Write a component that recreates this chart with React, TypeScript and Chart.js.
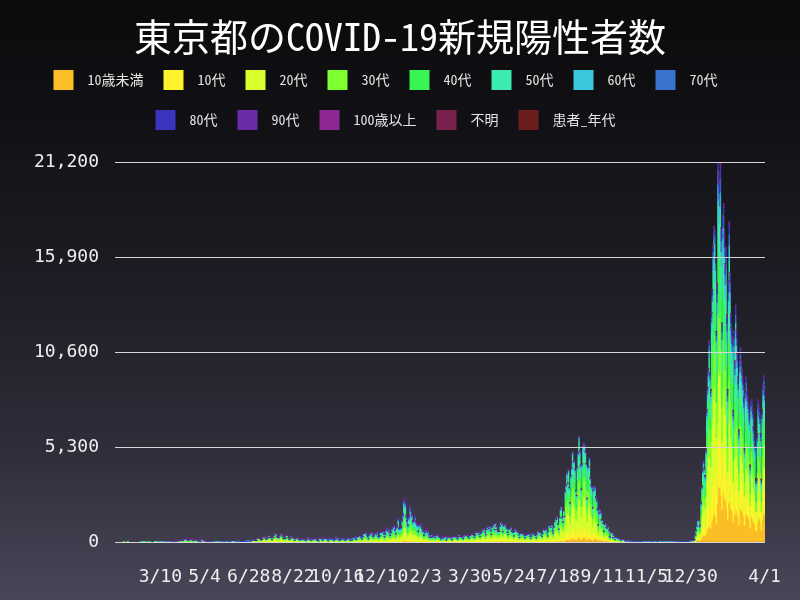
import React, { useEffect, useRef } from "react";
import { Chart, registerables } from "chart.js";

Chart.register(...registerables);

const TICK_FONT = "'DejaVu Sans Mono', 'Noto Sans CJK JP', monospace";
const CJK_FONT = "'Noto Sans Mono CJK JP', 'Noto Sans CJK JP', 'DejaVu Sans Mono', monospace";
const TITLE = "東京都のCOVID-19新規陽性者数";

// ---- daily totals, first day 2020-01-24 ----
const startDate = "2020-01-24";
const cases2020_01 = [1, 1, 0, 0, 0, 1, 1, 0];
const cases2020_02 = [0, 0, 0, 0, 0, 0, 0, 0, 0, 0, 0, 0, 1, 2, 8, 5, 0, 3, 3, 0, 3, 2, 0, 3, 0, 3, 1, 1, 1];
const cases2020_03 = [2, 0, 3, 3, 8, 6, 1, 2, 7, 8, 5, 2, 11, 3, 1, 12, 3, 11, 7, 11, 7, 3, 16, 17, 41, 47, 40, 63, 68, 13, 78];
const cases2020_04 = [66, 97, 89, 116, 143, 83, 87, 144, 178, 189, 197, 166, 91, 161, 127, 149, 201, 181, 107, 102, 123, 132, 134, 161, 103, 72, 39, 112, 47, 46];
const cases2020_05 = [165, 154, 91, 87, 58, 38, 23, 39, 36, 22, 15, 28, 10, 30, 9, 14, 5, 10, 5, 5, 11, 3, 2, 14, 8, 10, 11, 15, 22, 14, 5];
const cases2020_06 = [13, 34, 12, 28, 20, 26, 14, 13, 12, 18, 22, 25, 24, 47, 48, 27, 16, 41, 35, 39, 35, 29, 31, 55, 48, 54, 57, 60, 58, 54];
const cases2020_07 = [67, 107, 124, 131, 111, 102, 75, 75, 224, 243, 206, 206, 119, 143, 165, 286, 293, 290, 188, 168, 237, 238, 366, 260, 295, 239, 131, 266, 250, 367, 463];
const cases2020_08 = [472, 292, 258, 309, 263, 360, 462, 429, 331, 197, 188, 222, 206, 389, 385, 260, 161, 207, 186, 339, 258, 256, 212, 95, 182, 236, 250, 226, 148, 148, 100];
const cases2020_09 = [170, 141, 211, 137, 181, 116, 77, 170, 149, 276, 187, 146, 146, 80, 191, 163, 172, 220, 218, 165, 98, 88, 59, 195, 270, 218, 143, 78, 194, 194];
const cases2020_10 = [235, 196, 208, 143, 59, 170, 177, 186, 187, 180, 146, 78, 166, 177, 284, 184, 235, 130, 78, 139, 150, 185, 186, 203, 124, 102, 158, 171, 221, 215, 215];
const cases2020_11 = [116, 87, 209, 122, 269, 242, 294, 189, 157, 293, 317, 393, 374, 352, 255, 180, 298, 493, 534, 522, 539, 391, 314, 186, 401, 481, 570, 561, 418, 311];
const cases2020_12 = [372, 500, 533, 449, 584, 327, 299, 352, 572, 602, 595, 621, 480, 305, 460, 678, 822, 664, 736, 556, 392, 563, 748, 888, 884, 949, 708, 481, 856, 944, 1337];
const cases2021_01 = [783, 814, 816, 884, 1278, 1591, 2447, 2392, 2268, 1494, 1219, 970, 1433, 1502, 2044, 1809, 1592, 1204, 1240, 1274, 1471, 1175, 1070, 986, 618, 1026, 973, 1064, 868, 769, 633];
const cases2021_02 = [393, 556, 676, 734, 577, 639, 429, 276, 412, 291, 434, 307, 369, 371, 266, 378, 445, 445, 353, 327, 272, 178, 275, 213, 340, 270, 337, 329];
const cases2021_03 = [121, 232, 316, 279, 301, 293, 237, 116, 290, 340, 335, 304, 330, 239, 175, 300, 409, 323, 303, 342, 256, 187, 337, 420, 394, 376, 430, 313, 234, 364, 414];
const cases2021_04 = [475, 440, 446, 355, 249, 399, 555, 545, 537, 570, 421, 306, 510, 591, 729, 667, 759, 543, 405, 711, 843, 861, 759, 876, 635, 425, 828, 925, 1027, 698];
const cases2021_05 = [1050, 879, 708, 609, 621, 591, 907, 1121, 1032, 573, 925, 969, 1010, 854, 772, 542, 419, 732, 766, 843, 614, 629, 535, 340, 598, 743, 684, 614, 539, 405, 260];
const cases2021_06 = [471, 487, 508, 472, 436, 351, 235, 369, 440, 439, 435, 467, 304, 209, 337, 501, 452, 453, 388, 376, 236, 435, 619, 570, 562, 534, 386, 317, 476, 714];
const cases2021_07 = [673, 660, 716, 518, 342, 593, 920, 896, 822, 950, 614, 502, 830, 1149, 1308, 1271, 1410, 1008, 727, 1387, 1832, 1979, 1359, 1128, 1763, 1429, 2848, 3177, 3865, 3300, 4058];
const cases2021_08 = [3058, 2195, 3709, 4166, 5042, 4515, 4566, 4066, 2884, 2612, 4200, 4989, 5908, 5094, 4295, 2962, 4377, 5386, 5534, 5405, 5074, 4392, 2447, 4220, 4228, 4704, 3581, 3190, 3081, 1915, 2909];
const cases2021_09 = [3168, 3099, 2539, 2362, 1853, 968, 1629, 1834, 1675, 1242, 1273, 1067, 611, 1004, 1052, 831, 782, 862, 651, 302, 253, 537, 531, 235, 382, 253, 154, 267, 267, 218];
const cases2021_10 = [200, 194, 161, 87, 149, 144, 138, 137, 82, 60, 49, 77, 72, 62, 66, 65, 40, 29, 36, 41, 36, 26, 32, 19, 17, 29, 36, 21, 26, 22, 22];
const cases2021_11 = [9, 18, 21, 22, 24, 22, 19, 9, 18, 22, 29, 20, 27, 19, 6, 20, 19, 21, 30, 16, 15, 6, 9, 22, 19, 23, 22, 17, 8, 12];
const cases2021_12 = [15, 12, 24, 18, 13, 7, 13, 21, 20, 22, 27, 17, 8, 26, 21, 28, 26, 30, 26, 12, 36, 39, 33, 37, 33, 38, 37, 46, 76, 64, 78];
const cases2022_01 = [79, 84, 103, 151, 390, 641, 922, 1224, 1223, 871, 962, 2198, 3124, 4051, 4561, 4172, 3719, 5185, 7377, 8638, 9699, 11227, 9468, 8503, 12813, 14086, 16538, 17631, 17433, 15895, 11751];
const cases2022_02 = [14445, 21576, 20679, 20267, 21122, 17526, 12213, 18287, 18891, 17113, 15525, 16468, 12694, 8510, 14567, 17864, 15044, 12730, 11962, 11385, 7347, 11807, 10099, 13228, 11848, 10517, 9198, 6262];
const cases2022_03 = [10197, 10848, 10129, 9636, 9115, 8074, 5283, 8608, 9225, 8455, 8137, 7694, 7054, 4299, 7846, 7985, 7404, 6429, 5893, 5449, 3505, 3533, 6051, 7930, 7497, 7102, 6050, 3508, 7377, 8800, 9300];
const cases2022_04 = [8500];

const dailyTotals = [
  ...cases2020_01, ...cases2020_02, ...cases2020_03, ...cases2020_04, ...cases2020_05, ...cases2020_06,
  ...cases2020_07, ...cases2020_08, ...cases2020_09, ...cases2020_10, ...cases2020_11, ...cases2020_12,
  ...cases2021_01, ...cases2021_02, ...cases2021_03, ...cases2021_04, ...cases2021_05, ...cases2021_06,
  ...cases2021_07, ...cases2021_08, ...cases2021_09, ...cases2021_10, ...cases2021_11, ...cases2021_12,
  ...cases2022_01, ...cases2022_02, ...cases2022_03, ...cases2022_04,
];

// ---- age groups (stack order bottom -> top) ----
const ageGroups = ["10歳未満", "10代", "20代", "30代", "40代", "50代", "60代", "70代", "80代", "90代", "100歳以上", "不明", "患者_年代"];
const ageColors = ["#fdbf27", "#fff32b", "#d9ff2c", "#7dff30", "#38f554", "#3cebaf", "#3ac8dc", "#3874cf", "#3a35c0", "#6c2caa", "#8e2794", "#7a2150", "#6a1e1e"];

// monthly age shares (%) : 2020-01 ... 2022-04 (28 months)
const shareU10 = [0, 0, 1, 1, 1, 2, 2, 3, 3, 3, 3, 3, 3, 3, 4, 4, 5, 5, 4, 5, 8, 7, 6, 5, 9, 15, 18, 18];
const share10s = [0, 5, 2, 2, 3, 4, 5, 6, 5, 5, 5, 5, 6, 6, 8, 9, 9, 8, 9, 10, 11, 8, 8, 8, 13, 13, 14, 14];
const share20s = [0, 10, 19, 19, 19, 45, 45, 37, 30, 28, 27, 27, 26, 24, 30, 31, 30, 34, 35, 31, 25, 28, 27, 30, 27, 18, 16, 16];
const share30s = [50, 15, 17, 17, 18, 21, 21, 20, 20, 19, 19, 18, 18, 18, 18, 18, 19, 20, 21, 21, 20, 18, 18, 19, 17, 16, 16, 16];
const share40s = [50, 20, 17, 17, 17, 12, 12, 13, 15, 15, 15, 15, 15, 15, 15, 15, 16, 14, 14, 16, 16, 15, 15, 15, 15, 16, 15, 15];
const share50s = [0, 20, 17, 17, 17, 8, 8, 9, 11, 12, 12, 13, 13, 13, 12, 12, 12, 10, 10, 11, 11, 12, 12, 11, 10, 10, 9, 9];
const share60s = [0, 15, 10, 10, 10, 4, 3, 5, 7, 7, 7, 7, 7, 8, 6, 6, 5, 4, 3, 3.5, 4, 5, 6, 5, 4, 5, 5, 5];
const share70s = [0, 10, 8, 8, 8, 2.5, 2, 3, 5, 6, 6, 6, 6, 7, 4, 3, 2, 2, 1.5, 1.5, 2.5, 4, 5, 4, 2.5, 3.5, 3.5, 3.5];
const share80s = [0, 4, 6, 6, 5, 2, 1.5, 2.5, 3, 4, 4, 4, 4.5, 4.5, 2.5, 1.5, 1.5, 1.5, 0.7, 0.6, 1.5, 2.5, 2, 2, 1.5, 2.8, 2.5, 2.5];
const share90s = [0, 1, 2, 2, 1.5, 0.5, 0.5, 0.7, 1, 1, 1.5, 1.5, 1.5, 1.5, 0.7, 0.4, 0.4, 0.4, 0.2, 0.15, 0.5, 1, 0.8, 0.7, 0.6, 1.2, 1, 1];
const share100 = [0, 0, 0, 0, 0, 0, 0, 0, 0, 0, 0.05, 0.05, 0.05, 0.05, 0.02, 0.01, 0.01, 0.01, 0, 0, 0, 0, 0, 0, 0.01, 0.03, 0.03, 0.03];
const shareUnknown = [0, 0, 1, 1, 1, 0.5, 0.5, 0.3, 0.3, 0.2, 0.2, 0.2, 0.2, 0.2, 0.2, 0.2, 0.1, 0.1, 0.05, 0.05, 0.1, 0.1, 0.1, 0.1, 0.03, 0.03, 0.03, 0.03];
const sharePatient = [0, 0, 0, 0, 0, 0, 0, 0, 0, 0, 0, 0, 0, 0, 0, 0, 0, 0, 0, 0, 0, 0, 0, 0, 0.02, 0.02, 0.02, 0.02];
const ageShares = [shareU10, share10s, share20s, share30s, share40s, share50s, share60s, share70s, share80s, share90s, share100, shareUnknown, sharePatient];

// x tick labels shown
const tickDates = ["2020-03-10", "2020-05-04", "2020-06-28", "2020-08-22", "2020-10-16", "2020-12-10", "2021-02-03", "2021-03-30", "2021-05-24", "2021-07-18", "2021-09-11", "2021-11-05", "2021-12-30", "2022-04-01"];

function pad(n: number) {
  return n < 10 ? "0" + n : "" + n;
}

function buildCategories(start: string, n: number): string[] {
  const [y, m, d] = start.split("-").map(Number);
  const out: string[] = [];
  for (let i = 0; i < n; i++) {
    const dt = new Date(Date.UTC(y, m - 1, d + i));
    out.push(dt.getUTCFullYear() + "-" + pad(dt.getUTCMonth() + 1) + "-" + pad(dt.getUTCDate()));
  }
  return out;
}

function md(iso: string) {
  const p = iso.split("-");
  return Number(p[1]) + "/" + Number(p[2]);
}

const bgPlugin = {
  id: "bgGradient",
  beforeDraw(chart: any) {
    const { ctx, width, height } = chart;
    const g = ctx.createLinearGradient(0, 0, 0, height);
    g.addColorStop(0, "#0b0b0d");
    g.addColorStop(0.2, "#111115");
    g.addColorStop(0.5, "#1f1e26");
    g.addColorStop(0.75, "#2f2d3a");
    g.addColorStop(1, "#4a4659");
    ctx.save();
    ctx.fillStyle = g;
    ctx.fillRect(0, 0, width, height);
    ctx.restore();
  },
};

// draw lower stack segments first so upper age groups sit on top
const drawOrderPlugin = {
  id: "drawOrder",
  beforeDatasetsDraw(chart: any) {
    const metas = chart.getSortedVisibleDatasetMetas();
    for (let i = 0; i < metas.length; i++) {
      if (typeof chart._drawDataset === "function") chart._drawDataset(metas[i]);
      else metas[i].controller.draw();
    }
    return false;
  },
};

const titlePlugin = {
  id: "centerTitle",
  afterDraw(chart: any) {
    const ctx = chart.ctx;
    ctx.save();
    ctx.font = `38px ${CJK_FONT}`;
    ctx.fillStyle = "#ffffff";
    ctx.textAlign = "center";
    ctx.textBaseline = "middle";
    ctx.fillText(TITLE, chart.width / 2, 37);
    ctx.restore();
  },
};

export default function App() {
  const ref = useRef<HTMLCanvasElement | null>(null);

  useEffect(() => {
    if (!ref.current) return;
    const categories = buildCategories(startDate, dailyTotals.length);
    const tickSet = new Set(tickDates);
    const monthIdx = categories.map((iso) => {
      const [y, m] = iso.split("-").map(Number);
      return (y - 2020) * 12 + (m - 1);
    });

    const datasets = ageGroups.map((name, gi) => ({
      label: name,
      backgroundColor: ageColors[gi],
      borderWidth: 0,
      barPercentage: 1,
      categoryPercentage: 1,
      data: dailyTotals.map((t, di) => {
        const mi = monthIdx[di];
        let sum = 0;
        for (const s of ageShares) sum += s[mi];
        if (sum === 0) return null;
        const v = Math.round((t * ageShares[gi][mi]) / sum);
        return v > 0 ? v : null;
      }),
    }));

    const chart = new Chart(ref.current, {
      type: "bar",
      data: { labels: categories, datasets },
      options: {
        responsive: false,
        maintainAspectRatio: false,
        animation: false,
        events: [],
        layout: { padding: { left: 6, right: 35, top: 50, bottom: 12 } },
        plugins: {
          tooltip: { enabled: false },
          title: { display: false },
          subtitle: {
            display: true,
            text: " ",
            weight: 500,
            font: { size: 1, lineHeight: 1 },
            padding: { top: 21, bottom: 0 },
          } as any,
          legend: {
            display: true,
            position: "top",
            labels: {
              boxWidth: 20,
              boxHeight: 20,
              padding: 20,
              color: "#e4e4e4",
              font: { family: CJK_FONT, size: 14 },
              generateLabels: (c: any) =>
                (Chart.defaults.plugins.legend.labels.generateLabels as any)(c).map((l: any) => ({ ...l, text: " " + l.text })),
            },
          },
        },
        scales: {
          x: {
            stacked: true,
            grid: { display: false, drawTicks: false },
            border: { display: false },
            afterFit: (scale: any) => {
              scale.height = 46;
              scale.paddingLeft = 0;
              scale.paddingRight = 0;
            },
            ticks: {
              autoSkip: false,
              maxRotation: 0,
              minRotation: 0,
              padding: 25,
              color: "#eeeeee",
              font: { family: TICK_FONT, size: 18 },
              callback: function (this: any, value: any) {
                const iso = categories[Number(value)];
                return tickSet.has(iso) ? md(iso) : "";
              },
            },
          },
          y: {
            stacked: true,
            min: 0,
            max: 21200,
            afterFit: (scale: any) => {
              scale.width = 117;
            },
            grid: { color: "#d6d6d6", lineWidth: 1, tickLength: 8, z: 1 },
            border: { display: false },
            ticks: {
              stepSize: 5300,
              padding: 16,
              color: "#eeeeee",
              font: { family: TICK_FONT, size: 18 },
              callback: (v: any) => Number(v).toLocaleString("en-US"),
            },
          },
        },
      },
      plugins: [bgPlugin, drawOrderPlugin, titlePlugin],
    });

    return () => chart.destroy();
  }, []);

  return (
    <div style={{ position: "fixed", left: 0, top: 0, width: 800, height: 600 }}>
      <canvas ref={ref} width={800} height={600} style={{ display: "block" }} />
    </div>
  );
}
